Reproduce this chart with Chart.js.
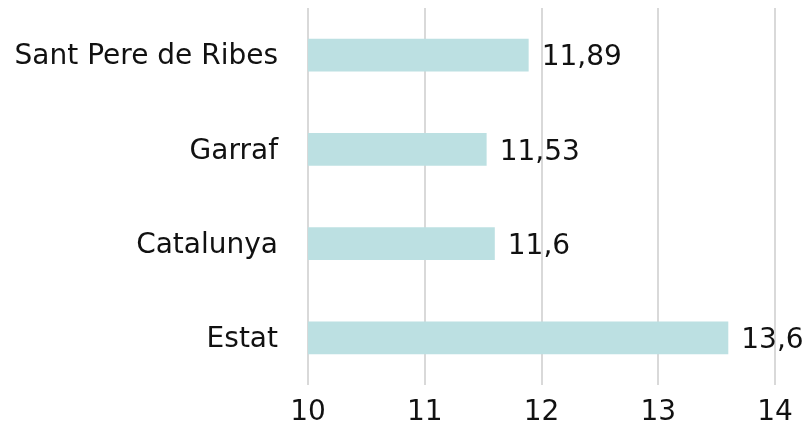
<!DOCTYPE html>
<html>
<head>
<meta charset="utf-8">
<script src="https://cdn.jsdelivr.net/npm/chart.js@4.4.1/dist/chart.umd.min.js"></script>
<style>
    html, body { margin: 0; padding: 0; background: #ffffff; }
    #wrap { width: 810px; height: 442px; }
</style>
</head>
<body>
<div id="wrap"><canvas id="barChart" width="810" height="442"></canvas></div>
<script>
// Dades del gràfic
const categories = ['Sant Pere de Ribes', 'Garraf', 'Catalunya', 'Estat'];
const values = [11.89, 11.53, 11.6, 13.6];
const valueLabels = ['11,89', '11,53', '11,6', '13,6'];
const xTicks = [10, 11, 12, 13, 14];

const FONT = "'DejaVu Sans', Verdana, sans-serif";

// Etiquetes de valor a la dreta de cada barra
const valueLabelPlugin = {
    id: 'valueLabels',
    afterDatasetsDraw: function(chart) {
        const ctx = chart.ctx;
        const meta = chart.getDatasetMeta(0);
        ctx.save();
        ctx.font = '28px ' + FONT;
        ctx.fillStyle = '#111111';
        ctx.textAlign = 'left';
        ctx.textBaseline = 'middle';
        meta.data.forEach(function(bar, i) {
            ctx.fillText(valueLabels[i], bar.x + 13, bar.y + 3);
        });
        ctx.restore();
    }
};

new Chart(document.getElementById('barChart'), {
    type: 'bar',
    data: {
        labels: categories,
        datasets: [{
            data: values,
            backgroundColor: '#bce0e2',
            borderWidth: 0,
            barPercentage: 0.35,
            categoryPercentage: 1
        }]
    },
    options: {
        indexAxis: 'y',
        responsive: false,
        animation: false,
        layout: { padding: { top: 8, right: 35, left: 0, bottom: 0 } },
        plugins: {
            legend: { display: false },
            tooltip: { enabled: false }
        },
        scales: {
            x: {
                min: 10,
                max: 14,
                afterBuildTicks: function(axis) {
                    axis.ticks = xTicks.map(function(v) { return { value: v }; });
                },
                grid: { color: '#d9d9d9', lineWidth: 2, drawTicks: false },
                border: { display: false },
                ticks: {
                    color: '#111111',
                    font: { family: FONT, size: 28 },
                    padding: 11
                },
                afterFit: function(axis) { axis.height = 57; }
            },
            y: {
                grid: { display: false, drawTicks: false },
                border: { display: false },
                ticks: {
                    color: '#111111',
                    font: { family: FONT, size: 28 },
                    padding: 30,
                    labelOffset: 2
                },
                afterFit: function(axis) {
                    axis.width = 308;
                    axis.paddingTop = 0;
                    axis.paddingBottom = 0;
                }
            }
        }
    },
    plugins: [valueLabelPlugin]
});
</script>
</body>
</html>
